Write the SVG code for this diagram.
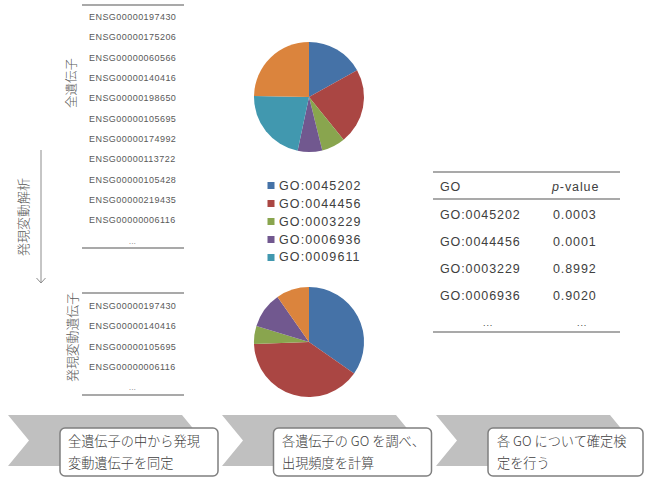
<svg xmlns="http://www.w3.org/2000/svg" width="650" height="484" viewBox="0 0 650 484">
<style>
.gene{font-family:"Liberation Sans",Arial,sans-serif;font-size:9px;fill:#595959;letter-spacing:0.45px;dominant-baseline:central}
.rule{stroke:#8c8c8c;stroke-width:1.5;fill:none}
.vlab{font-family:"Noto Sans CJK JP",sans-serif;font-size:12.5px;font-weight:300;fill:#595959;dominant-baseline:central;text-anchor:middle}
.leg{font-family:"Liberation Sans",Arial,sans-serif;font-size:12.5px;fill:#404040;letter-spacing:1.1px;dominant-baseline:central}
.tb{font-family:"Liberation Sans",Arial,sans-serif;font-size:12.5px;fill:#404040;letter-spacing:0.9px;dominant-baseline:central}
.chev{fill:#c0c0c0}
.box{fill:#ffffff;stroke:#7f7f7f;stroke-width:1.5}
.btx{font-family:"Noto Sans CJK JP",sans-serif;font-size:13.2px;font-weight:300;fill:#404040;dominant-baseline:central}
</style>
<defs>
<marker id="arr" markerWidth="10" markerHeight="10" refX="9" refY="5" orient="auto" markerUnits="userSpaceOnUse" viewBox="0 0 10 10">
<path d="M4,0.5 L9,5 L4,9.5" fill="none" stroke="#8c8c8c" stroke-width="1"/>
</marker>
</defs>

<g id="all-genes">
<line class="rule" x1="82" y1="5" x2="184" y2="5"/>
<text class="gene" x="89" y="17">ENSG00000197430</text>
<text class="gene" x="89" y="37.3">ENSG00000175206</text>
<text class="gene" x="89" y="57.7">ENSG00000060566</text>
<text class="gene" x="89" y="78">ENSG00000140416</text>
<text class="gene" x="89" y="98.3">ENSG00000198650</text>
<text class="gene" x="89" y="118.7">ENSG00000105695</text>
<text class="gene" x="89" y="139">ENSG00000174992</text>
<text class="gene" x="89" y="159.3">ENSG00000113722</text>
<text class="gene" x="89" y="179.7">ENSG00000105428</text>
<text class="gene" x="89" y="200">ENSG00000219435</text>
<text class="gene" x="89" y="220.3">ENSG00000006116</text>
<text class="gene" x="129" y="241" style="font-size:7px">...</text>
<line class="rule" x1="82" y1="248" x2="184" y2="248"/>
<text class="vlab" transform="translate(70,83) rotate(-90)">全遺伝子</text>
</g>

<g id="analysis-label">
<text class="vlab" transform="translate(22,217) rotate(-90)" style="font-size:13px">発現変動解析</text>
</g>

<g id="de-genes">
<line class="rule" x1="82" y1="293" x2="184" y2="293"/>
<text class="gene" x="89" y="306">ENSG00000197430</text>
<text class="gene" x="89" y="326.3">ENSG00000140416</text>
<text class="gene" x="89" y="346.7">ENSG00000105695</text>
<text class="gene" x="89" y="367">ENSG00000006116</text>
<text class="gene" x="129" y="387" style="font-size:7px">...</text>
<line class="rule" x1="82" y1="395" x2="184" y2="395"/>
<text class="vlab" transform="translate(71,337) rotate(-90)" style="font-size:12.8px">発現変動遺伝子</text>
</g>

<g id="pie-all">
<path d="M309,97 L309,42 A55,55 0 0 1 357.1,70.3 Z" fill="#4572A7"/>
<path d="M309,97 L357.1,70.3 A55,55 0 0 1 343.6,139.7 Z" fill="#AA4643"/>
<path d="M309,97 L343.6,139.7 A55,55 0 0 1 322.3,150.4 Z" fill="#89A54E"/>
<path d="M309,97 L322.3,150.4 A55,55 0 0 1 297.6,150.8 Z" fill="#71588F"/>
<path d="M309,97 L297.6,150.8 A55,55 0 0 1 254,96 Z" fill="#4198AF"/>
<path d="M309,97 L254,96 A55,55 0 0 1 309,42 Z" fill="#DB843D"/>
</g>

<g id="legend">
<rect x="267.5" y="182" width="7" height="7" fill="#4572A7"/>
<text class="leg" x="279" y="185.7">GO:0045202</text>
<rect x="267.5" y="200" width="7" height="7" fill="#AA4643"/>
<text class="leg" x="279" y="203.7">GO:0044456</text>
<rect x="267.5" y="218" width="7" height="7" fill="#89A54E"/>
<text class="leg" x="279" y="221.7">GO:0003229</text>
<rect x="267.5" y="236" width="7" height="7" fill="#71588F"/>
<text class="leg" x="279" y="239.5">GO:0006936</text>
<rect x="267.5" y="254" width="7" height="7" fill="#4198AF"/>
<text class="leg" x="279" y="257.3">GO:0009611</text>
</g>

<g id="pie-de">
<path d="M309,342 L309,287 A55,55 0 0 1 354.1,373.5 Z" fill="#4572A7"/>
<path d="M309,342 L354.1,373.5 A55,55 0 0 1 254,343.9 Z" fill="#AA4643"/>
<path d="M309,342 L254,343.9 A55,55 0 0 1 256.4,325.9 Z" fill="#89A54E"/>
<path d="M309,342 L256.4,325.9 A55,55 0 0 1 277.5,296.9 Z" fill="#71588F"/>
<path d="M309,342 L277.5,296.9 A55,55 0 0 1 309,287 Z" fill="#DB843D"/>
</g>

<g id="table">
<line class="rule" x1="433" y1="172" x2="620" y2="172"/>
<text class="tb" x="440" y="187">GO</text>
<text class="tb" x="552" y="187"><tspan font-style="italic">p</tspan>-value</text>
<line class="rule" x1="433" y1="199" x2="620" y2="199"/>
<text class="tb" x="440" y="215">GO:0045202</text>
<text class="tb" x="553" y="215">0.0003</text>
<text class="tb" x="440" y="242">GO:0044456</text>
<text class="tb" x="553" y="242">0.0001</text>
<text class="tb" x="440" y="268.5">GO:0003229</text>
<text class="tb" x="553" y="268.5">0.8992</text>
<text class="tb" x="440" y="295.5">GO:0006936</text>
<text class="tb" x="553" y="295.5">0.9020</text>
<text class="tb" x="483" y="323" style="font-size:9px">...</text>
<text class="tb" x="577" y="323" style="font-size:9px">...</text>
<line class="rule" x1="433" y1="332" x2="620" y2="332"/>
</g>

<g id="step1">
<path class="chev" d="M8,415 L182,415 L203,440.5 L182,466 L8,466 L29,440.5 Z"/>
<rect class="box" x="60" y="428" width="158" height="48" rx="5"/>
<text class="btx" x="68" y="440.5">全遺伝子の中から発現</text>
<text class="btx" x="68" y="462.5">変動遺伝子を同定</text>
</g>

<g id="step2">
<path class="chev" d="M222,415 L396,415 L417,440.5 L396,466 L222,466 L243,440.5 Z"/>
<rect class="box" x="273.5" y="428" width="158" height="48" rx="5"/>
<text class="btx" x="282" y="440.5">各遺伝子の GO を調べ、</text>
<text class="btx" x="282" y="462.5">出現頻度を計算</text>
</g>

<g id="step3">
<path class="chev" d="M436,415 L610,415 L631,440.5 L610,466 L436,466 L457,440.5 Z"/>
<rect class="box" x="488" y="428" width="155" height="48" rx="5"/>
<text class="btx" x="497" y="440.5">各 GO について確定検</text>
<text class="btx" x="497" y="462.5">定を行う</text>
</g>

<g id="connectors">
<line x1="41" y1="150" x2="41" y2="283" stroke="#8c8c8c" stroke-width="1" marker-end="url(#arr)"/>
</g>
</svg>
